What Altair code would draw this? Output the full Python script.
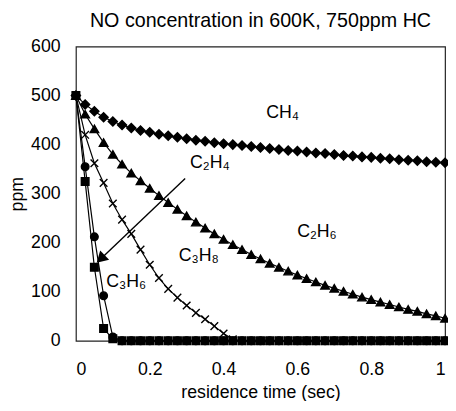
import altair as alt
import pandas as pd

t_sec = [0.0, 0.025, 0.05, 0.075, 0.1, 0.125, 0.15, 0.175, 0.2, 0.225,
         0.25, 0.275, 0.3, 0.325, 0.35, 0.375, 0.4, 0.425, 0.45, 0.475,
         0.5, 0.525, 0.55, 0.575, 0.6, 0.625, 0.65, 0.675, 0.7, 0.725,
         0.75, 0.775, 0.8, 0.825, 0.85, 0.875, 0.9, 0.925, 0.95, 0.975, 1.0]

ch4 = [500, 482, 468, 456, 447, 440, 434, 429, 425, 421,
       418, 415, 412, 409, 407, 404, 402, 400, 398, 396,
       394, 392, 390, 388, 387, 385, 383, 382, 380, 378,
       377, 375, 374, 372, 371, 369, 368, 367, 365, 364, 363]

c2h6 = [500, 462, 432, 404, 380, 360, 342, 326, 311, 296,
        282, 268, 255, 242, 230, 218, 207, 196, 186, 176,
        167, 158, 150, 142, 134, 127, 120, 113, 107, 101,
        95, 89, 84, 79, 74, 69, 64, 60, 55, 51, 46]

c3h8 = [500, 420, 362, 322, 280, 247, 218, 186, 155, 128,
        106, 88, 72, 57, 44, 30, 15, 3, 0, 0,
        0, 0, 0, 0, 0, 0, 0, 0, 0, 0,
        0, 0, 0, 0, 0, 0, 0, 0, 0, 0, 0]

c3h6 = [500, 355, 212, 92, 8, 0, 0, 0, 0, 0,
        0, 0, 0, 0, 0, 0, 0, 0, 0, 0,
        0, 0, 0, 0, 0, 0, 0, 0, 0, 0,
        0, 0, 0, 0, 0, 0, 0, 0, 0, 0, 0]

c2h4 = [500, 325, 150, 25, 4, 0, 0, 0, 0, 0,
        0, 0, 0, 0, 0, 0, 0, 0, 0, 0,
        0, 0, 0, 0, 0, 0, 0, 0, 0, 0,
        0, 0, 0, 0, 0, 0, 0, 0, 0, 0, 0]

series_names = ["CH4", "C2H6", "C3H8", "C3H6", "C2H4"]
series_values = [ch4, c2h6, c3h8, c3h6, c2h4]
series_shapes = ["diamond", "triangle-up", "M-1,-1L1,1M-1,1L1,-1", "circle", "square"]
series_sizes = [85, 75, 60, 60, 60]

label_text = ["CH₄", "C₂H₄", "C₂H₆", "C₃H₈", "C₃H₆"]
label_x = [0.56, 0.363, 0.653, 0.333, 0.136]
label_y = [464, 363, 221, 173, 120]

arrow_from = (0.296, 331)
arrow_to = (0.067, 167)

FONT = "Liberation Sans"

rows = []
for name, vals in zip(series_names, series_values):
    for t, v in zip(t_sec, vals):
        rows.append({"t": t, "ppm": v, "series": name})
df = pd.DataFrame(rows)

xscale = alt.Scale(domain=[0, 1], nice=False, zero=False)
yscale = alt.Scale(domain=[0, 600], nice=False)

xax = alt.Axis(values=[0, 0.2, 0.4, 0.6, 0.8, 1], format="~g", grid=False, domain=False,
               ticks=False, labelPadding=20, labelFontSize=18, labelFont=FONT,
               labelColor="black", title="residence time (sec)", titleFont=FONT,
               titleFontSize=18, titleFontWeight="normal", titleColor="black",
               titlePadding=6, labelOverlap=False)
yax = alt.Axis(values=[0, 100, 200, 300, 400, 500, 600], grid=False, domain=False,
               ticks=False, labelPadding=16, labelFontSize=18, labelFont=FONT,
               labelColor="black", title="ppm", titleFont=FONT, titleFontSize=18,
               titleFontWeight="normal", titleColor="black", titlePadding=4,
               labelOverlap=False)

layers = []
for name, shp, sz in zip(series_names, series_shapes, series_sizes):
    sub = df[df.series == name]
    base = alt.Chart(sub)
    line = base.mark_line(color="black", strokeWidth=1.2).encode(
        x=alt.X("t:Q", scale=xscale, axis=xax),
        y=alt.Y("ppm:Q", scale=yscale, axis=yax),
    )
    pts = base.mark_point(shape=shp, size=sz, filled=True, color="black",
                          stroke="black", strokeWidth=1.4, opacity=1).encode(
        x=alt.X("t:Q", scale=xscale),
        y=alt.Y("ppm:Q", scale=yscale),
    )
    layers += [line, pts]

arrow_df = pd.DataFrame([{"x": arrow_from[0], "y": arrow_from[1],
                          "x2": arrow_to[0], "y2": arrow_to[1]}])
arrow_line = alt.Chart(arrow_df).mark_rule(color="black", strokeWidth=1.4).encode(
    x="x:Q", y="y:Q", x2="x2:Q", y2="y2:Q")
arrow_head = alt.Chart(arrow_df).mark_point(shape="triangle-up", size=170, filled=True,
                                            color="black", angle=226, opacity=1).encode(
    x="x2:Q", y="y2:Q")

lab_df = pd.DataFrame({"x": label_x, "y": label_y, "text": label_text})
labels = alt.Chart(lab_df).mark_text(font=FONT, fontSize=18, color="black").encode(
    x="x:Q", y="y:Q", text="text:N")

chart = alt.layer(*layers, arrow_line, arrow_head, labels).properties(
    width=375, height=299,
    padding={"left": 69, "top": 36, "right": 3, "bottom": 58},
    autosize="none",
    title=alt.TitleParams("NO concentration in 600K, 750ppm HC", fontSize=20,
                          fontWeight="normal", font=FONT, color="black",
                          anchor="middle", offset=7),
).configure_view(stroke="#222", strokeWidth=1.2)

chart.save("out.html", embed_options={"renderer": "svg", "actions": False})
